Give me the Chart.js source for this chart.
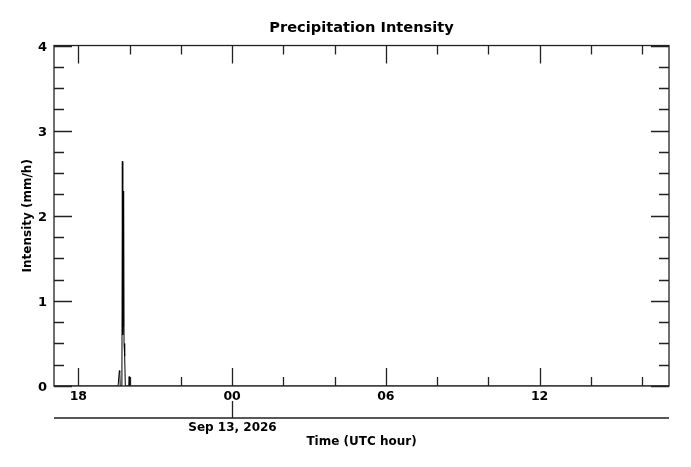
<!DOCTYPE html>
<html>
<head>
<meta charset="utf-8">
<script src="https://cdn.jsdelivr.net/npm/chart.js@4"></script>
<style>
  html, body { margin: 0; padding: 0; background: #fff; }
  #wrap { width: 691px; height: 467px; }
</style>
</head>
<body>
<div id="wrap"><canvas id="precip-chart"></canvas></div>
<script>
// hours relative to 00 UTC Sep 13, 2026
const timeHours = [-6.95, -4.45, -4.4167, -4.40, -4.3833, -4.3667, -4.30, -4.2833, -4.2667, -4.25, -4.2333,
                   -4.2167, -4.20, -4.1833, -4.1667, -4.0333, -4.0167, -4.00, 17.05];
const intensity = [0, 0, 0, 0.18, 0.16, 0, 0, 2.64, 0.6, 0.7, 2.29,
                   0.5, 0.38, 0.35, 0, 0, 0.11, 0, 0];

const xMajorTicks = [-6, 0, 6, 12];
const xTickLabels = ['18', '00', '06', '12'];
const xMinorTicks = [-4, -2, 2, 4, 8, 10, 14, 16];
const yMajorTicks = [0, 1, 2, 3, 4];
const yMinorTicks = [0.25, 0.5, 0.75, 1.25, 1.5, 1.75, 2.25, 2.5, 2.75, 3.25, 3.5, 3.75];
const dateTick = 0;
const dateLabel = 'Sep 13, 2026';

Chart.defaults.font.family = "'DejaVu Sans', sans-serif";
Chart.defaults.color = '#000';

const axisColor = '#222';

// frame, inward ticks on all sides, and the date line below the x axis
const frameTicks = {
    id: 'frameTicks',
    afterDraw(chart) {
        const c = chart.ctx;
        const { left, right, top, bottom } = chart.chartArea;
        const x = chart.scales.x, y = chart.scales.y;
        c.save();
        c.strokeStyle = axisColor;
        c.lineWidth = 1.3;
        c.strokeRect(left, top, right - left, bottom - top);
        c.beginPath();
        xMajorTicks.forEach(v => {
            const px = Math.round(x.getPixelForValue(v)) + 0.5;
            c.moveTo(px, bottom); c.lineTo(px, bottom - 18);
            c.moveTo(px, top); c.lineTo(px, top + 18);
        });
        xMinorTicks.forEach(v => {
            const px = Math.round(x.getPixelForValue(v)) + 0.5;
            c.moveTo(px, bottom); c.lineTo(px, bottom - 9);
            c.moveTo(px, top); c.lineTo(px, top + 9);
        });
        yMajorTicks.forEach(v => {
            const py = Math.round(y.getPixelForValue(v)) + 0.5;
            c.moveTo(left, py); c.lineTo(left + 18, py);
            c.moveTo(right, py); c.lineTo(right - 18, py);
        });
        yMinorTicks.forEach(v => {
            const py = Math.round(y.getPixelForValue(v)) + 0.5;
            c.moveTo(left, py); c.lineTo(left + 10, py);
            c.moveTo(right, py); c.lineTo(right - 10, py);
        });
        // date axis
        const dy = bottom + 32;
        const dx = Math.round(x.getPixelForValue(dateTick)) + 0.5;
        c.moveTo(left, dy); c.lineTo(right, dy);
        c.moveTo(dx, dy); c.lineTo(dx, dy - 17);
        c.stroke();
        c.fillStyle = '#000';
        c.font = "bold 12px 'DejaVu Sans'";
        c.textAlign = 'center';
        c.textBaseline = 'middle';
        c.fillText(dateLabel, dx, dy + 10);
        c.restore();
    }
};

new Chart(document.getElementById('precip-chart'), {
    type: 'line',
    data: {
        datasets: [{
            label: 'Intensity',
            data: timeHours.map((t, i) => ({ x: t, y: intensity[i] })),
            borderColor: '#000',
            borderWidth: 1,
            pointRadius: 0,
            tension: 0,
            fill: false
        }]
    },
    options: {
        responsive: true,
        maintainAspectRatio: false,
        animation: false,
        layout: { padding: { left: 0, right: 22, top: 0, bottom: 0 } },
        plugins: {
            legend: { display: false },
            tooltip: { enabled: false },
            title: {
                display: true,
                text: 'Precipitation Intensity',
                fullSize: false,
                font: { size: 14.6, weight: 'bold' },
                padding: { top: 19, bottom: 9 }
            }
        },
        scales: {
            x: {
                type: 'linear',
                min: -6.95,
                max: 17.05,
                grid: { display: false, tickLength: 0 },
                border: { display: false },
                afterBuildTicks: scale => {
                    scale.ticks = xMajorTicks.map(v => ({ value: v }));
                },
                afterFit: scale => { scale.height = 81; },
                ticks: {
                    padding: 3,
                    maxRotation: 0,
                    autoSkip: false,
                    font: { size: 12.5, weight: 'bold' },
                    callback: value => xTickLabels[xMajorTicks.indexOf(value)]
                },
                title: {
                    display: true,
                    text: 'Time (UTC hour)',
                    font: { size: 12, weight: 'bold' },
                    padding: { top: 18, bottom: 18 }
                }
            },
            y: {
                min: 0,
                max: 4,
                grid: { display: false, tickLength: 0 },
                border: { display: false },
                afterFit: scale => { scale.width = 54; },
                ticks: {
                    stepSize: 1,
                    padding: 7,
                    labelOffset: 2,
                    font: { size: 13, weight: 'bold' }
                },
                title: {
                    display: true,
                    text: 'Intensity (mm/h)',
                    font: { size: 12, weight: 'bold' },
                    padding: { top: 21, bottom: 21 }
                }
            }
        }
    },
    plugins: [frameTicks]
});
</script>
</body>
</html>
